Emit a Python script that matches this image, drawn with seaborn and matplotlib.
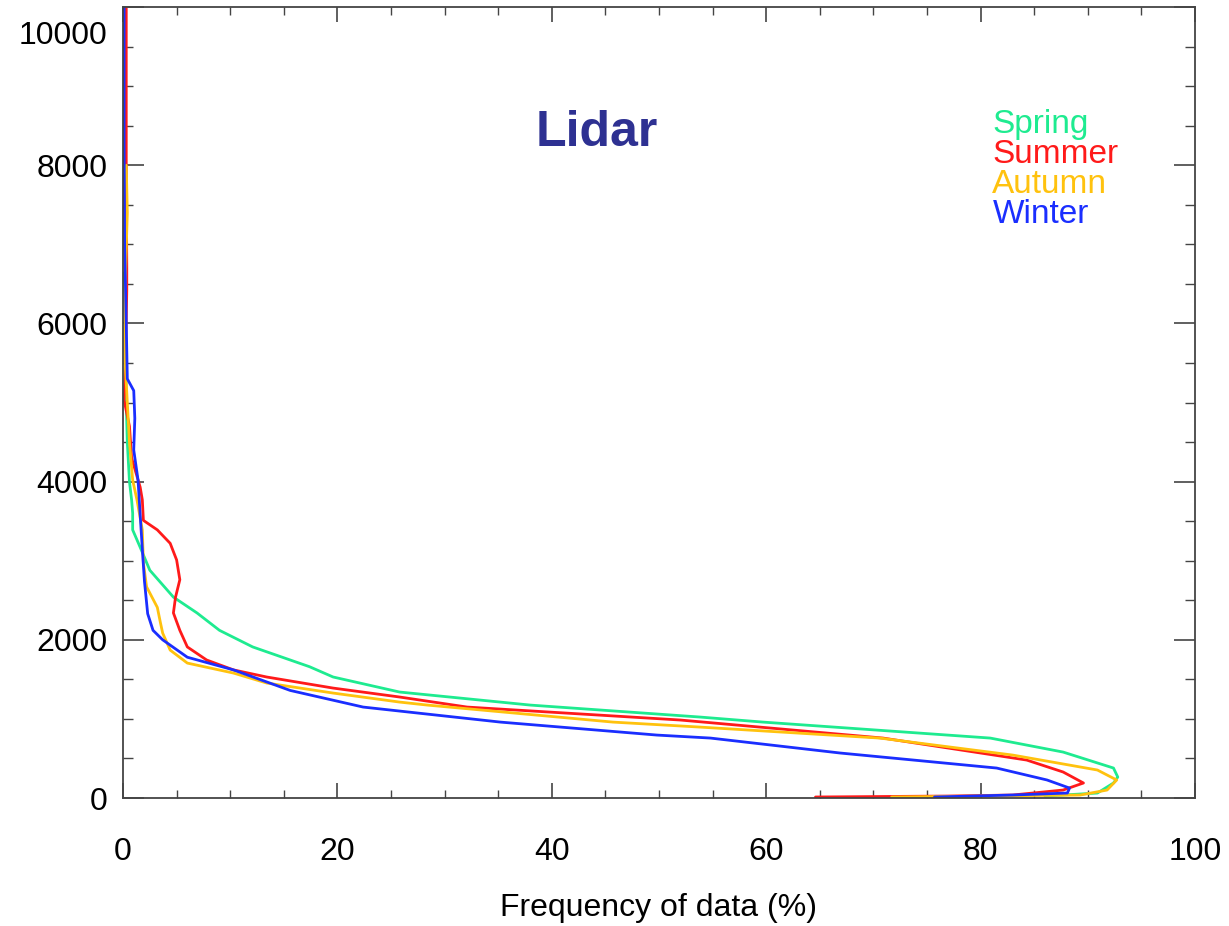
"""Lidar: frequency of data vs height, one curve per season."""

import matplotlib
matplotlib.use("Agg")
import matplotlib.pyplot as plt
import matplotlib.transforms as mtransforms
from matplotlib.ticker import MultipleLocator
import pandas as pd
import seaborn as sns

# ----------------------------------------------------------------------------
# data (height in m, frequency in %)
# ----------------------------------------------------------------------------
seasons = ["Spring", "Summer", "Autumn", "Winter"]
season_colors = ["#1EEB90", "#FF1A1A", "#FFC20E", "#1A2EFF"]

spring_h = [6640, 6000, 5000, 4500, 4000, 3770, 3600, 3390, 3170, 2880, 2540, 2340,
            2120, 1910, 1660, 1530, 1340, 1175, 1024, 960, 758, 581, 379, 265, 190, 63, 25]
spring_f = [0.1, 0.2, 0.3, 0.4, 0.6, 0.8, 0.9, 0.9, 1.6, 2.5, 4.7, 6.9,
            9.0, 12.1, 17.4, 19.6, 25.8, 38.0, 53.8, 59.7, 80.9, 87.7, 92.4, 92.8, 92.4, 90.9, 86.0]

summer_h = [10000, 8300, 7980, 6710, 6420, 5250, 5030, 4700, 4300, 3930, 3770, 3510,
            3390, 3220, 3010, 2760, 2540, 2340, 2120, 1910, 1745, 1620, 1530, 1390,
            1277, 1150, 986, 758, 480, 329, 190, 101, 38, 25, 13]
summer_f = [0.3, 0.3, 0.3, 0.35, 0.35, 0.2, 0.1, 0.6, 0.8, 1.6, 1.8, 1.9,
            3.2, 4.4, 5.0, 5.3, 4.9, 4.7, 5.3, 6.0, 7.8, 10.3, 13.4, 19.6,
            25.8, 32.1, 52.0, 70.9, 84.3, 87.7, 89.6, 87.7, 83.0, 76.9, 64.6]

autumn_h = [8000, 7400, 6500, 5500, 5000, 4500, 4020, 3770, 3390, 2970, 2670, 2410,
            2210, 2085, 1870, 1706, 1580, 1454, 1327, 1213, 1175, 960, 897, 758,
            543, 354, 228, 101, 38, 13]
autumn_f = [0.3, 0.4, 0.2, 0.2, 0.4, 0.6, 0.9, 1.3, 1.8, 1.9, 2.2, 3.2,
            3.5, 3.7, 4.4, 6.0, 10.3, 13.4, 19.6, 25.8, 28.4, 45.7, 53.8, 70.6,
            83.0, 90.9, 92.7, 91.8, 89.3, 71.7]

winter_h = [10000, 8300, 7000, 6000, 5300, 5150, 4800, 4400, 4020, 3580, 3150, 2740,
            2330, 2120, 2000, 1780, 1620, 1360, 1150, 960, 796, 758, 569, 379,
            228, 126, 63, 38, 13]
winter_f = [0.1, 0.1, 0.15, 0.3, 0.4, 1.0, 1.1, 1.0, 1.4, 1.6, 1.8, 2.0,
            2.3, 2.8, 3.7, 6.0, 10.3, 15.6, 22.4, 35.2, 49.8, 54.8, 66.9, 81.5,
            86.2, 88.3, 88.1, 83.0, 75.7]

x_ticks = [0, 20, 40, 60, 80, 100]
y_ticks = [0, 2000, 4000, 6000, 8000, 10000]

frames = []
for name, f, h in [("Spring", spring_f, spring_h), ("Summer", summer_f, summer_h),
                   ("Autumn", autumn_f, autumn_h), ("Winter", winter_f, winter_h)]:
    frames.append(pd.DataFrame({"season": name, "freq": f, "height": h}))
df = pd.concat(frames, ignore_index=True)

# ----------------------------------------------------------------------------
# figure
# ----------------------------------------------------------------------------
sns.set_style("ticks")
plt.rcParams["font.family"] = ["Liberation Sans", "DejaVu Sans"]

fig = plt.figure(figsize=(12.29, 9.26), dpi=100)
ax = fig.add_axes([0.1001, 0.1382, 0.8722, 0.8542])

# sort=False + estimator=None keeps each season's points in drawing order
sns.lineplot(
    data=df, x="freq", y="height", hue="season", hue_order=seasons,
    palette=season_colors, sort=False, estimator=None,
    linewidth=2.0, legend=False, ax=ax,
)

ax.set_xlim(0, 100)
ax.set_ylim(0, 10000)
ax.set_xticks(x_ticks)
ax.set_yticks(y_ticks)
ax.xaxis.set_minor_locator(MultipleLocator(5))
ax.yaxis.set_minor_locator(MultipleLocator(500))
ax.tick_params(axis="both", which="both", direction="in", top=True, right=True,
               colors="#444444", labelcolor="black", labelsize=23)
ax.tick_params(axis="x", which="major", length=11, width=1.2, pad=28)
ax.tick_params(axis="x", which="minor", length=6, width=1.0)
ax.tick_params(axis="y", which="major", length=15, width=1.2, pad=11)
ax.tick_params(axis="y", which="minor", length=7.5, width=1.0)
for sp in ax.spines.values():
    sp.set_color("#444444")
    sp.set_linewidth(1.3)

# keep the top y label inside the figure, as in the reference
fig.canvas.draw()
top_lab = ax.get_yticklabels()[-1]
top_lab.set_transform(top_lab.get_transform()
                      + mtransforms.ScaledTranslation(0, -18 / 72, fig.dpi_scale_trans))

ax.set_xlabel("Frequency of data (%)", fontsize=23, labelpad=19, color="black")
ax.set_ylabel("")

ax.text(44.2, 8406, "Lidar", color="#2E3192", fontsize=36, fontweight="bold",
        ha="center", va="center")
for i, (name, col) in enumerate(zip(seasons, season_colors)):
    ax.text(81.1, 8406 - i * 380, name, color=col, fontsize=24, ha="left",
            va="baseline")

fig.savefig("out.png", dpi=100)
